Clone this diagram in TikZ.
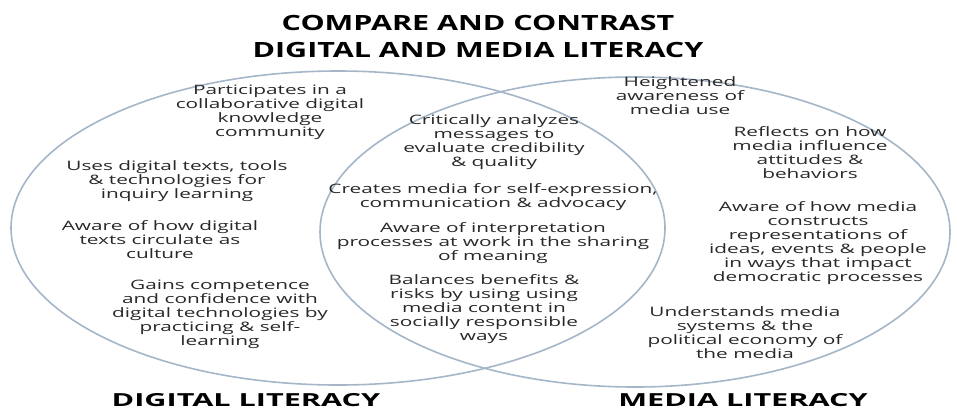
\documentclass[tikz,border=0pt]{standalone}
\usepackage{fontspec}
\setmainfont{Open Sans}[FakeStretch=1.6]
\newfontfamily\headfont{Open Sans}[FakeStretch=1.45]
\newfontfamily\lblfont{Open Sans}[FakeStretch=1.7]
\begin{document}
\begin{tikzpicture}[x=1pt,y=-1pt,
  ring/.style={draw={rgb,255:red,165;green,182;blue,200}, line width=1.6pt},
  txt/.style={align=center, inner sep=0pt, text={rgb,255:red,40;green,40;blue,40},
    font=\fontsize{13}{14}\selectfont},
  ttl/.style={align=center, inner sep=0pt, text=black,
    font=\headfont\fontsize{21}{27}\selectfont\bfseries},
  lbl/.style={inner sep=0pt, text=black, font=\lblfont\fontsize{18}{20}\selectfont\bfseries}]
\useasboundingbox (0,0) rectangle (957,416);
\fill[white] (0,0) rectangle (957,416);
\draw[ring] (338,228) ellipse [x radius=327pt, y radius=157pt];
\draw[ring] (635,232) ellipse [x radius=315pt, y radius=155pt];

\node[ttl] (title) at (478,36) {COMPARE AND CONTRAST\\DIGITAL AND MEDIA LITERACY};

\node[txt] (d1) at (270,112) {Participates in a\\collaborative digital\\knowledge\\community};
\node[txt] (d2) at (177,181) {Uses digital texts, tools\\\& technologies for\\inquiry learning};
\node[txt] (d3) at (160,240) {Aware of how digital\\texts circulate as\\culture};
\node[txt] (d4) at (220,314) {Gains competence\\and confidence with\\digital technologies by\\practicing \& self-\\learning};

\node[txt] (c1) at (494,142) {Critically analyzes\\messages to\\evaluate credibility\\\& quality};
\node[txt] (c2) at (493,197) {Creates media for self-expression,\\communication \& advocacy};
\node[txt] (c3) at (493,243) {Aware of interpretation\\processes at work in the sharing\\of meaning};
\node[txt] (c4) at (484,309) {Balances benefits \&\\risks by using using\\media content in\\socially responsible\\ways};

\node[txt] (m1) at (680,96) {Heightened\\awareness of\\media use};
\node[txt] (m2) at (810,153) {Reflects on how\\media influence\\attitudes \&\\behaviors};
\node[txt] (m3) at (818,243) {Aware of how media\\constructs\\representations of\\ideas, events \& people\\in ways that impact\\democratic processes};
\node[txt] (m4) at (745,333) {Understands media\\systems \& the\\political economy of\\the media};

\node[lbl] (dl) at (246,400) {DIGITAL LITERACY};
\node[lbl] (ml) at (743,400) {MEDIA LITERACY};
\end{tikzpicture}
\end{document}
